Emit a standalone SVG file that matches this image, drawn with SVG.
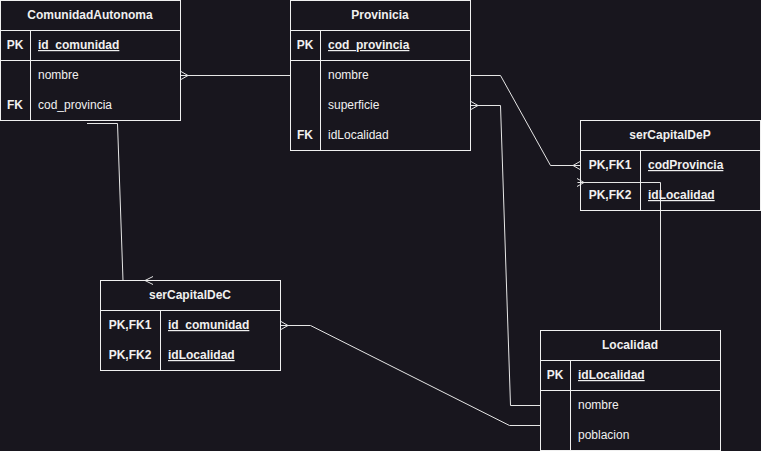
<svg xmlns="http://www.w3.org/2000/svg" width="761" height="451" viewBox="0 0 761 451">
  <style>
    .box { fill: none; stroke: #f0f0f0; stroke-width: 1; }
    .sep { stroke: #f0f0f0; stroke-width: 1; }
    .title { font-family: "Liberation Sans", Arial, sans-serif; font-size: 12px; font-weight: bold; fill: #f0f0f0; text-anchor: middle; }
    .key { font-family: "Liberation Sans", Arial, sans-serif; font-size: 12px; font-weight: bold; fill: #f0f0f0; text-anchor: middle; }
    .attr { font-family: "Liberation Sans", Arial, sans-serif; font-size: 12px; fill: #f0f0f0; }
    .pk { font-weight: bold; text-decoration: underline; }
    .edge { fill: none; stroke: #e6e6e6; stroke-width: 1; }
  </style>
  <rect width="761" height="451" fill="#18161e"/>

  <!-- relationships -->
  <g id="connectors">
    <!-- ComunidadAutonoma.nombre -> Provinicia -->
    <path class="edge" d="M180.5,75.5 H290.5"/>
    <path class="edge" d="M181,71.5 L188,75.5 L181,79.5"/>
    <!-- Provinicia.nombre -> serCapitalDeP.codProvincia -->
    <path class="edge" d="M470.5,75.5 H500.5 L550.5,165.5 H580.5"/>
    <path class="edge" d="M580,161.5 L573,165.5 L580,169.5"/>
    <!-- Provinicia.superficie -> Localidad.nombre -->
    <path class="edge" d="M470.5,105.5 H500.5 L510.5,405.5 H540.5"/>
    <path class="edge" d="M471,101.5 L478,105.5 L471,109.5"/>
    <!-- Localidad -> serCapitalDeP.idLocalidad -->
    <path class="edge" d="M660.5,330.5 V182.5 H577.5"/>
    <path class="edge" d="M577,178.5 L584,182.5 L577,186.5"/>
    <!-- ComunidadAutonoma -> serCapitalDeC -->
    <path class="edge" d="M87,123.5 H117.5 L123,280.5 H152"/>
    <path class="edge" d="M153,276.5 L145,280.5 L153,284.5"/>
    <!-- serCapitalDeC.id_comunidad -> Localidad.poblacion -->
    <path class="edge" d="M280.5,325.5 H310.5 L509.5,425.5 H540.5"/>
    <path class="edge" d="M281,321.5 L288,325.5 L281,329.5"/>
  </g>

  <!-- ComunidadAutonoma -->
  <g id="ComunidadAutonoma">
    <rect x="0.5" y="0.5" width="180" height="120" fill="#18161e" class="box"/>
    <line class="sep" x1="0.5" y1="30.5" x2="180.5" y2="30.5"/>
    <line class="sep" x1="0.5" y1="60.5" x2="180.5" y2="60.5"/>
    <line class="sep" x1="30.5" y1="30.5" x2="30.5" y2="120.5"/>
    <text class="title" x="90" y="19">ComunidadAutonoma</text>
    <text class="key" x="15" y="49">PK</text>
    <text class="attr pk" x="38" y="49">id_comunidad</text>
    <text class="attr" x="38" y="79">nombre</text>
    <text class="key" x="15" y="109">FK</text>
    <text class="attr" x="38" y="109">cod_provincia</text>
  </g>

  <!-- Provinicia -->
  <g id="Provinicia">
    <rect x="290.5" y="0.5" width="180" height="150" fill="#18161e" class="box"/>
    <line class="sep" x1="290.5" y1="30.5" x2="470.5" y2="30.5"/>
    <line class="sep" x1="290.5" y1="60.5" x2="470.5" y2="60.5"/>
    <line class="sep" x1="320.5" y1="30.5" x2="320.5" y2="150.5"/>
    <text class="title" x="380" y="19">Provinicia</text>
    <text class="key" x="305" y="49">PK</text>
    <text class="attr pk" x="328" y="49">cod_provincia</text>
    <text class="attr" x="328" y="79">nombre</text>
    <text class="attr" x="328" y="109">superficie</text>
    <text class="key" x="305" y="139">FK</text>
    <text class="attr" x="328" y="139">idLocalidad</text>
  </g>

  <!-- serCapitalDeP -->
  <g id="serCapitalDeP">
    <rect x="580.5" y="120.5" width="180" height="90" fill="#18161e" class="box"/>
    <line class="sep" x1="580.5" y1="150.5" x2="760.5" y2="150.5"/>
    <line class="sep" x1="640.5" y1="150.5" x2="640.5" y2="210.5"/>
    <text class="title" x="670" y="139">serCapitalDeP</text>
    <text class="key" x="610" y="169">PK,FK1</text>
    <text class="attr pk" x="648" y="169">codProvincia</text>
    <text class="key" x="610" y="199">PK,FK2</text>
    <text class="attr pk" x="648" y="199">idLocalidad</text>
  </g>

  <!-- serCapitalDeC -->
  <g id="serCapitalDeC">
    <rect x="100.5" y="280.5" width="180" height="90" fill="#18161e" class="box"/>
    <line class="sep" x1="100.5" y1="310.5" x2="280.5" y2="310.5"/>
    <line class="sep" x1="160.5" y1="310.5" x2="160.5" y2="370.5"/>
    <text class="title" x="190" y="299">serCapitalDeC</text>
    <text class="key" x="130" y="329">PK,FK1</text>
    <text class="attr pk" x="168" y="329">id_comunidad</text>
    <text class="key" x="130" y="359">PK,FK2</text>
    <text class="attr pk" x="168" y="359">idLocalidad</text>
  </g>

  <!-- Localidad -->
  <g id="Localidad">
    <rect x="540.5" y="330.5" width="180" height="120" fill="#18161e" class="box"/>
    <line class="sep" x1="540.5" y1="360.5" x2="720.5" y2="360.5"/>
    <line class="sep" x1="540.5" y1="390.5" x2="720.5" y2="390.5"/>
    <line class="sep" x1="570.5" y1="360.5" x2="570.5" y2="450.5"/>
    <text class="title" x="630" y="349">Localidad</text>
    <text class="key" x="555" y="379">PK</text>
    <text class="attr pk" x="578" y="379">idLocalidad</text>
    <text class="attr" x="578" y="409">nombre</text>
    <text class="attr" x="578" y="439">poblacion</text>
  </g>
</svg>
